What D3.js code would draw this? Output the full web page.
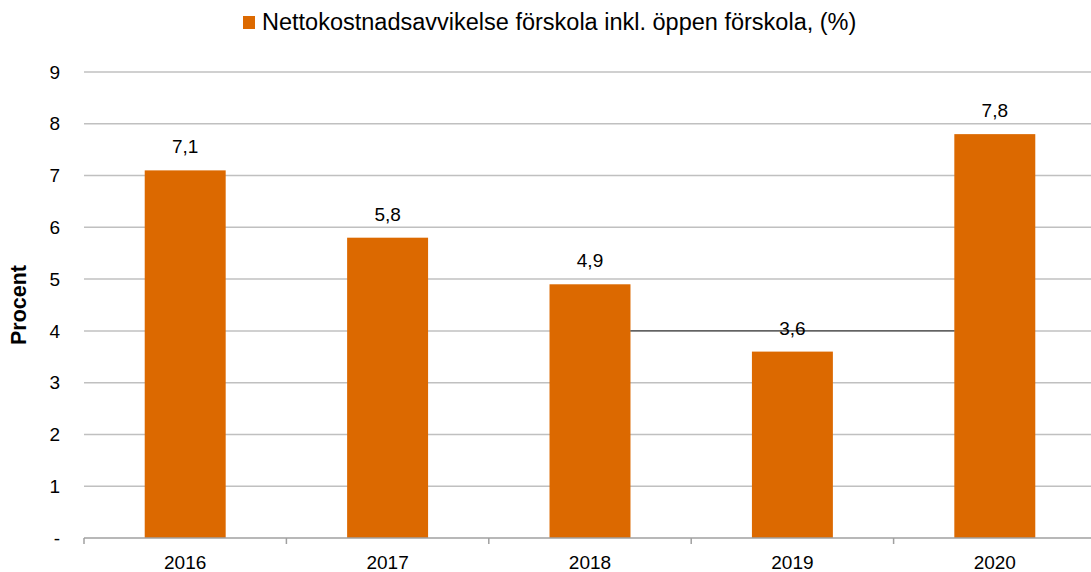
<!DOCTYPE html>
<html>
<head>
<meta charset="utf-8">
<script src="https://cdn.jsdelivr.net/npm/d3@7"></script>
<style>
  body { margin: 0; background: #fff; }
  svg { display: block; font-family: "Liberation Sans", Arial, sans-serif; }
</style>
</head>
<body>
<div id="chart"></div>
<script>
// chart data
var years = ['2016', '2017', '2018', '2019', '2020'];
var values = [7.1, 5.8, 4.9, 3.6, 7.8];
var valueLabels = ['7,1', '5,8', '4,9', '3,6', '7,8'];
var yTicks = [0, 1, 2, 3, 4, 5, 6, 7, 8, 9];
var yTickLabels = ['-', '1', '2', '3', '4', '5', '6', '7', '8', '9'];
var seriesName = 'Nettokostnadsavvikelse förskola inkl. öppen förskola, (%)';
var refLevel = [4]; // the thin black line between 2018 and 2020

var width = 1091, height = 572;
var margin = { top: 72, right: -5, bottom: 34, left: 84 };
var barColor = '#dc6900';

var svg = d3.select('#chart').append('svg')
  .attr('width', width)
  .attr('height', height);

var x = d3.scaleBand()
  .domain(years)
  .range([margin.left, width - margin.right])
  .paddingInner(0.6)
  .paddingOuter(0.3);

var y = d3.scaleLinear()
  .domain([0, 9])
  .range([height - margin.bottom, margin.top]);

// gridlines
svg.append('g')
  .selectAll('line')
  .data(yTicks.filter(function (d) { return d > 0; }))
  .enter().append('line')
  .attr('x1', margin.left)
  .attr('x2', width)
  .attr('y1', function (d) { return y(d); })
  .attr('y2', function (d) { return y(d); })
  .attr('stroke', '#c0c0c0')
  .attr('stroke-width', 1.5);

// y labels
svg.append('g')
  .selectAll('text')
  .data(yTicks)
  .enter().append('text')
  .attr('x', 60)
  .attr('y', function (d) { return y(d); })
  .attr('dy', '0.35em')
  .attr('text-anchor', 'end')
  .attr('font-size', 19)
  .attr('fill', '#000')
  .text(function (d, i) { return yTickLabels[i]; });

// y title
svg.append('text')
  .attr('transform', 'translate(26,' + y(4.5) + ') rotate(-90)')
  .attr('text-anchor', 'middle')
  .attr('font-size', 21.5)
  .attr('font-weight', 'bold')
  .text('Procent');

// bars
svg.append('g')
  .selectAll('rect')
  .data(values)
  .enter().append('rect')
  .attr('x', function (d, i) { return x(years[i]); })
  .attr('y', function (d) { return y(d); })
  .attr('width', x.bandwidth())
  .attr('height', function (d) { return y(0) - y(d); })
  .attr('fill', barColor);

// reference line from 2018 bar to 2020 bar
svg.append('g')
  .selectAll('line')
  .data(refLevel)
  .enter().append('line')
  .attr('x1', x('2018') + x.bandwidth())
  .attr('x2', x('2020'))
  .attr('y1', function (d) { return y(d); })
  .attr('y2', function (d) { return y(d); })
  .attr('stroke', '#222')
  .attr('stroke-width', 1);

// value labels
svg.append('g')
  .selectAll('text')
  .data(values)
  .enter().append('text')
  .attr('x', function (d, i) { return x(years[i]) + x.bandwidth() / 2; })
  .attr('y', function (d) { return y(d) - 17; })
  .attr('text-anchor', 'middle')
  .attr('font-size', 19)
  .attr('fill', '#000')
  .text(function (d, i) { return valueLabels[i]; });

// x axis
var step = x.step();
var axisY = y(0);
var axis = svg.append('g');
axis.append('line')
  .attr('x1', margin.left)
  .attr('x2', width)
  .attr('y1', axisY)
  .attr('y2', axisY)
  .attr('stroke', '#a0a0a0')
  .attr('stroke-width', 1.5);
axis.selectAll('.tick')
  .data(years)
  .enter().append('line')
  .attr('x1', function (d) { return x(d) - (step - x.bandwidth()) / 2; })
  .attr('x2', function (d) { return x(d) - (step - x.bandwidth()) / 2; })
  .attr('y1', axisY)
  .attr('y2', axisY + 6)
  .attr('stroke', '#a0a0a0')
  .attr('stroke-width', 1.5);
axis.selectAll('text')
  .data(years)
  .enter().append('text')
  .attr('x', function (d) { return x(d) + x.bandwidth() / 2; })
  .attr('y', axisY + 31)
  .attr('text-anchor', 'middle')
  .attr('font-size', 19)
  .text(function (d) { return d; });

// legend
var legend = svg.append('g');
legend.append('rect')
  .attr('x', 243)
  .attr('y', 16)
  .attr('width', 12)
  .attr('height', 13)
  .attr('fill', barColor);
legend.append('text')
  .attr('x', 262)
  .attr('y', 30)
  .attr('font-size', 23.5)
  .text(seriesName);
</script>
</body>
</html>
